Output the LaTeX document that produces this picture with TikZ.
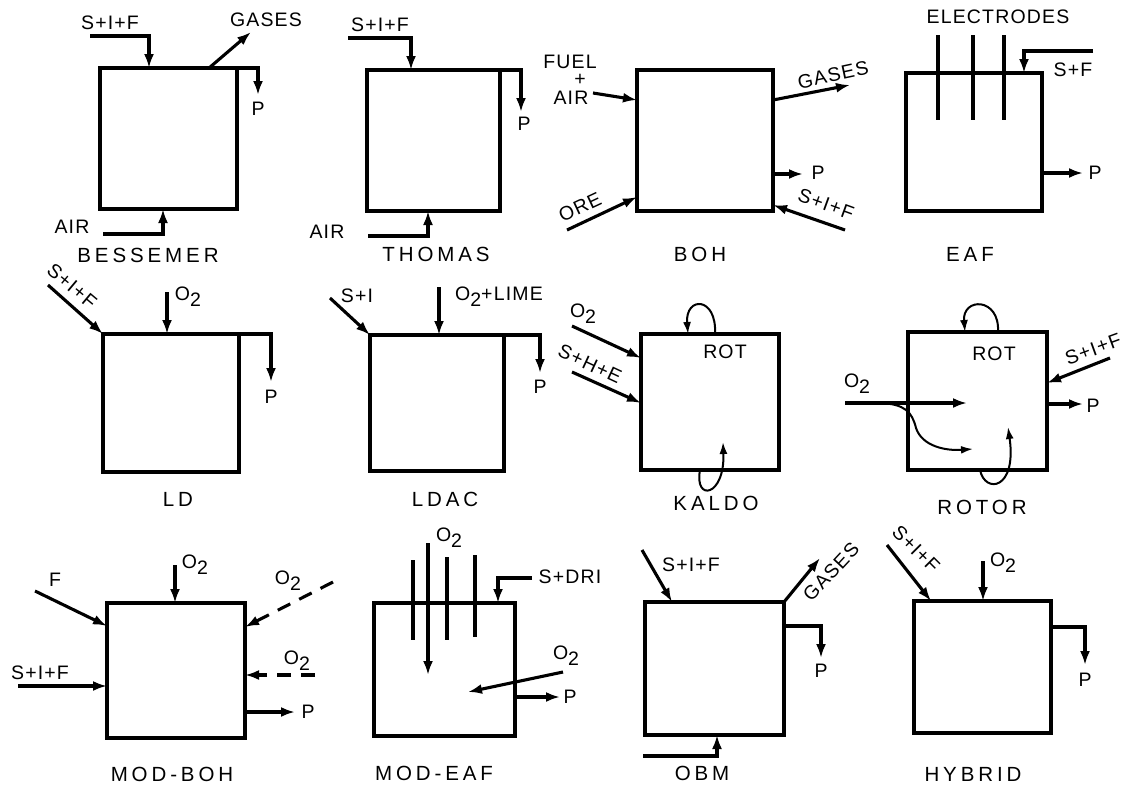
\documentclass[tikz,border=0pt]{standalone}
\usepackage{fontspec}
\setmainfont{Liberation Sans}
\newfontfamily\lblfont[LetterSpace=6]{Liberation Sans}
\newfontfamily\namefont[LetterSpace=19]{Liberation Sans}
\usetikzlibrary{arrows.meta}
\newcommand\Otwo{O\raisebox{-6pt}{2}}
\tikzset{
  furnace/.style={draw, line width=3.1pt, inner sep=0pt, outer sep=0pt, anchor=north west},
  flow/.style={line width=3.1pt, -{Latex[length=14pt,width=10pt]}},
  thinflow/.style={line width=2pt, -{Latex[length=12pt,width=8pt]}},
  plainline/.style={line width=3.1pt},
  dashflow/.style={line width=3.1pt, dash pattern=on 14pt off 10pt, -{Latex[length=14pt,width=10pt]}},
  lbl/.style={inner sep=0pt, font=\lblfont\fontsize{19.5}{19.5}\selectfont},
  procname/.style={inner sep=0pt, font=\namefont\fontsize{20.5}{20.5}\selectfont},
}
\begin{document}
\begin{tikzpicture}[x=1pt,y=-1pt]
\fill[white] (0,0) rectangle (1123,785);
\useasboundingbox (0,0) rectangle (1123,785);

% ---------- boxes ----------
\node[furnace, minimum width=137pt, minimum height=141pt] (bes) at (100,68) {};
\node[furnace, minimum width=133pt, minimum height=141pt] (tho) at (367,70) {};
\node[furnace, minimum width=136pt, minimum height=141pt] (boh) at (637,70) {};
\node[furnace, minimum width=136pt, minimum height=138pt] (eaf) at (906,73) {};
\node[furnace, minimum width=136pt, minimum height=138pt] (ld) at (103,334) {};
\node[furnace, minimum width=134pt, minimum height=136pt] (ldac) at (370,335) {};
\node[furnace, minimum width=138pt, minimum height=136pt] (kal) at (641,334) {};
\node[furnace, minimum width=139pt, minimum height=138pt] (rot) at (908,332) {};
\node[furnace, minimum width=138pt, minimum height=135pt] (mboh) at (107,603) {};
\node[furnace, minimum width=141pt, minimum height=133pt] (meaf) at (374,603) {};
\node[furnace, minimum width=139pt, minimum height=133pt] (obm) at (645,602) {};
\node[furnace, minimum width=137pt, minimum height=132pt] (hyb) at (914,601) {};

% ---------- BESSEMER ----------
\node[lbl] (besin) at (110,23) {S+I+F};
\node[lbl] (besgas) at (266,20) {GASES};
\node[lbl] (besp) at (258,109) {P};
\node[lbl] (besair) at (72,227) {AIR};
\node[procname] (besname) at (148,255) {BESSEMER};
\coordinate (besinS) at (90,36);
\coordinate (besgasE) at (251,32);
\coordinate (bespE) at (258,95);
\coordinate (besairS) at (103,234);
\draw[flow] (besinS) -| ([xshift=49pt]bes.north west);
\draw[flow] ([xshift=109pt]bes.north west) -- (besgasE);
\draw[flow] (bes.north east) -| (bespE);
\draw[flow] (besairS) -| ([xshift=63pt]bes.south west);

% ---------- THOMAS ----------
\node[lbl] (thoin) at (380,25) {S+I+F};
\node[lbl] (thop) at (524,124) {P};
\node[lbl] (thoair) at (327,232) {AIR};
\node[procname] (thoname) at (436,254) {THOMAS};
\coordinate (thoinS) at (348,38);
\coordinate (thopE) at (521,112);
\coordinate (thoairS) at (368,236);
\draw[flow] (thoinS) -| ([xshift=44pt]tho.north west);
\draw[flow] (tho.north east) -| (thopE);
\draw[flow] (thoairS) -| ([xshift=61pt]tho.south west);

% ---------- BOH ----------
\node[lbl] (bohfuel) at (570,62) {FUEL};
\node[lbl] (bohplus) at (580,80) {+};
\node[lbl] (bohair) at (571,98) {AIR};
\node[lbl, rotate=25] (bohore) at (580,207) {ORE};
\node[lbl, rotate=12] (bohgas) at (833,75) {GASES};
\node[lbl] (bohp) at (818,173) {P};
\node[lbl, rotate=-20] (bohin) at (826,204) {S+I+F};
\node[procname] (bohname) at (700,254) {BOH};
\coordinate (bohfuelS) at (593,93);
\coordinate (bohoreS) at (567,230);
\coordinate (bohgasE) at (850,85);
\coordinate (bohpE) at (803,174);
\coordinate (bohinS) at (845,230);
\draw[flow] (bohfuelS) -- ([yshift=-30pt]boh.north west);
\draw[flow] (bohoreS) -- ([yshift=14pt]boh.south west);
\draw[flow] ([yshift=-30pt]boh.north east) -- (bohgasE);
\draw[flow] ([yshift=-104pt]boh.north east) -- (bohpE);
\draw[flow] (bohinS) -- ([yshift=6pt]boh.south east);

% ---------- EAF ----------
\node[lbl] (eafel) at (998,17) {ELECTRODES};
\node[lbl] (eafin) at (1073,70) {S+F};
\node[lbl] (eafp) at (1095,173) {P};
\node[procname] (eafname) at (970,254) {EAF};
\coordinate (e1a) at (938,35); \coordinate (e1b) at (938,120);
\coordinate (e2a) at (973,35); \coordinate (e2b) at (973,120);
\coordinate (e3a) at (1004,35); \coordinate (e3b) at (1004,120);
\draw[plainline] (e1a) -- (e1b);
\draw[plainline] (e2a) -- (e2b);
\draw[plainline] (e3a) -- (e3b);
\coordinate (eafinS) at (1093,51);
\coordinate (eafpE) at (1083,173);
\draw[flow] (eafinS) -| ([xshift=118pt]eaf.north west);
\draw[flow] ([yshift=-100pt]eaf.north east) -- (eafpE);

% ---------- LD ----------
\node[lbl, rotate=-40] (ldin) at (72,286) {S+I+F};
\node[lbl] (ldo) at (188,297) {\Otwo};
\node[lbl] (ldp) at (271,397) {P};
\node[procname] (ldname) at (178,499) {LD};
\coordinate (ldinS) at (48,285);
\coordinate (ldoS) at (167,292);
\coordinate (ldpE) at (271,382);
\draw[flow] (ldinS) -- (ld.north west);
\draw[flow] (ldoS) -- ([xshift=64pt]ld.north west);
\draw[flow] (ld.north east) -| (ldpE);

% ---------- LDAC ----------
\node[lbl] (ldacin) at (357,296) {S+I};
\node[lbl] (ldaco) at (499,297) {\Otwo+LIME};
\node[lbl] (ldacp) at (540,387) {P};
\node[procname] (ldacname) at (445,499) {LDAC};
\coordinate (ldacinS) at (330,298);
\coordinate (ldacoS) at (439,287);
\coordinate (ldacpE) at (540,373);
\draw[flow] (ldacinS) -- (ldac.north west);
\draw[flow] (ldacoS) -- ([xshift=69pt]ldac.north west);
\draw[flow] (ldac.north east) -| (ldacpE);

% ---------- KALDO ----------
\node[lbl] (kalo) at (583,314) {\Otwo};
\node[lbl, rotate=-25] (kalin) at (590,364) {S+H+E};
\node[lbl] (kalrot) at (725,352) {ROT};
\node[procname] (kalname) at (716,503) {KALDO};
\coordinate (kaloS) at (572,326);
\coordinate (kalinS) at (572,372);
\draw[flow] (kaloS) -- ([yshift=-24pt]kal.north west);
\draw[flow] (kalinS) -- ([yshift=-69pt]kal.north west);
\coordinate (kaltopE) at (688,334);
\coordinate (kalbotE) at (723,442);
\draw[thinflow] ([xshift=74pt]kal.north west) .. controls (717,296) and (685,296) .. (kaltopE);
\draw[thinflow] ([xshift=59pt]kal.south west) .. controls (694,502) and (725,497) .. (kalbotE);

% ---------- ROTOR ----------
\node[lbl] (rotrot) at (994,354) {ROT};
\node[lbl, rotate=20] (rotin) at (1093,349) {S+I+F};
\node[lbl] (rotp) at (1093,406) {P};
\node[lbl] (roto) at (857,384) {\Otwo};
\node[procname] (rotname) at (982,507) {ROTOR};
\coordinate (rotinS) at (1110,358);
\coordinate (rotpE) at (1083,404);
\coordinate (rotoS) at (845,403);
\coordinate (rotoE) at (967,403);
\coordinate (rotcS) at (880,403);
\coordinate (rotcE) at (973,449);
\draw[flow] (rotinS) -- ([yshift=-51pt]rot.north east);
\draw[flow] ([yshift=-72pt]rot.north east) -- (rotpE);
\draw[flow] (rotoS) -- (rotoE);
\draw[thinflow] (rotcS) .. controls (905,404) and (912,412) .. (916,428) .. controls (922,446) and (945,451) .. (rotcE);
\coordinate (rottopE) at (965,332);
\coordinate (rotbotE) at (1008,427);
\draw[thinflow] ([xshift=90pt]rot.north west) .. controls (1000,297) and (962,297) .. (rottopE);
\draw[thinflow] ([xshift=72pt]rot.south west) .. controls (985,494) and (1017,490) .. (rotbotE);

% ---------- MOD-BOH ----------
\node[lbl] (mbohf) at (55,580) {F};
\node[lbl] (mboho) at (195,565) {\Otwo};
\node[lbl] (mboho2) at (288,581) {\Otwo};
\node[lbl] (mboho3) at (297,661) {\Otwo};
\node[lbl] (mbohin) at (40,673) {S+I+F};
\node[lbl] (mbohp) at (308,712) {P};
\node[procname] (mbohname) at (172,774) {MOD-BOH};
\coordinate (mbohfS) at (35,591);
\coordinate (mbohoS) at (175,565);
\coordinate (mbohdS) at (333,582);
\coordinate (mbohhS) at (315,675);
\coordinate (mbohinS) at (18,686);
\coordinate (mbohpE) at (295,712);
\draw[flow] (mbohfS) -- ([yshift=-23pt]mboh.north west);
\draw[flow] (mbohoS) -- ([xshift=68pt]mboh.north west);
\draw[dashflow] (mbohdS) -- ([yshift=-24pt]mboh.north east);
\draw[dashflow] (mbohhS) -- ([yshift=-72pt]mboh.north east);
\draw[flow] (mbohinS) -- ([yshift=-83pt]mboh.north west);
\draw[flow] ([yshift=-109pt]mboh.north east) -- (mbohpE);

% ---------- MOD-EAF ----------
\node[lbl] (meafo) at (449,538) {\Otwo};
\node[lbl] (meafin) at (570,577) {S+DRI};
\node[lbl] (meafo2) at (566,656) {\Otwo};
\node[lbl] (meafp) at (570,697) {P};
\node[procname] (meafname) at (434,773) {MOD-EAF};
\coordinate (m1a) at (413,560); \coordinate (m1b) at (413,640);
\coordinate (m2a) at (447,557); \coordinate (m2b) at (447,640);
\coordinate (m3a) at (475,555); \coordinate (m3b) at (475,637);
\draw[plainline] (m1a) -- (m1b);
\draw[plainline] (m2a) -- (m2b);
\draw[plainline] (m3a) -- (m3b);
\coordinate (meafoS) at (428,543);
\coordinate (meafoE) at (428,675);
\coordinate (meafinS) at (532,578);
\coordinate (meafo2S) at (563,672);
\coordinate (meafo2E) at (468,692);
\coordinate (meafpE) at (560,697);
\draw[flow] (meafoS) -- (meafoE);
\draw[flow] (meafinS) -| ([xshift=124pt]meaf.north west);
\draw[flow] (meafo2S) -- (meafo2E);
\draw[flow] ([yshift=-94pt]meaf.north east) -- (meafpE);

% ---------- OBM ----------
\node[lbl] (obmin) at (691,565) {S+I+F};
\node[lbl, rotate=47] (obmgas) at (831,572) {GASES};
\node[lbl] (obmp) at (821,671) {P};
\node[procname] (obmname) at (702,773) {OBM};
\coordinate (obminS) at (642,550);
\coordinate (obmgasE) at (820,558);
\coordinate (obmpE) at (821,658);
\coordinate (obmbS) at (643,756);
\draw[flow] (obminS) -- ([xshift=27pt]obm.north west);
\draw[flow] (obm.north east) -- (obmgasE);
\draw[flow] ([yshift=-24pt]obm.north east) -| (obmpE);
\draw[flow] (obmbS) -| ([xshift=72pt]obm.south west);

% ---------- HYBRID ----------
\node[lbl, rotate=-45] (hybin) at (916,549) {S+I+F};
\node[lbl] (hybo) at (1003,563) {\Otwo};
\node[lbl] (hybp) at (1085,680) {P};
\node[procname] (hybname) at (973,774) {HYBRID};
\coordinate (hybinS) at (887,545);
\coordinate (hyboS) at (983,561);
\coordinate (hybpE) at (1085,665);
\draw[flow] (hybinS) -- ([xshift=17pt]hyb.north west);
\draw[flow] (hyboS) -- ([xshift=69pt]hyb.north west);
\draw[flow] ([yshift=-26pt]hyb.north east) -| (hybpE);
\end{tikzpicture}
\end{document}
